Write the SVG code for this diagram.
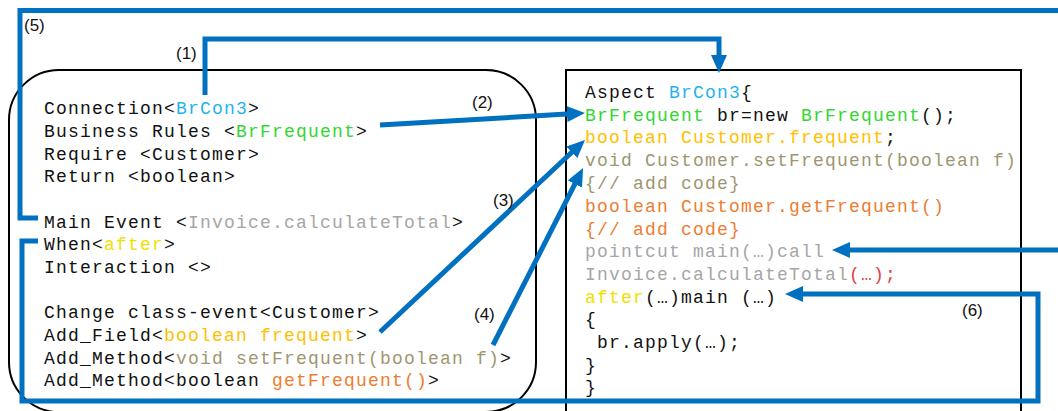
<svg xmlns="http://www.w3.org/2000/svg" width="1058" height="411" viewBox="0 0 1058 411">
  <style>
    .code { font-family: "Liberation Mono", "Courier New", monospace; font-size: 18px; letter-spacing: 1.2px; fill: #111; }
    .box { fill: none; stroke: #000; stroke-width: 2; }
    .wire { fill: none; stroke: #0070C0; stroke-width: 5; }
    .tag { font-family: "Liberation Sans", Arial, sans-serif; font-size: 17px; fill: #111; }
    .cyan { fill: #1FB4EE; }
    .green { fill: #33D633; }
    .gold { fill: #FFC000; }
    .olive { fill: #9E9670; }
    .orange { fill: #ED7D31; }
    .gray { fill: #A6A6A6; }
    .yellow { fill: #F0E000; }
    .red { fill: #E04040; }
  </style>
  <defs>
    <marker id="head" markerUnits="userSpaceOnUse" markerWidth="18" markerHeight="16" refX="8" refY="8" orient="auto">
      <path d="M0,0 L18,8 L0,16 z" fill="#0070C0"/>
    </marker>
  </defs>
  <rect width="1058" height="411" fill="#fff"/>

  <!-- DSL specification -->
  <g id="dsl-box">
    <rect class="box" x="9" y="70" width="527" height="342" rx="50" ry="50"/>
    <text class="code" x="44" y="114">Connection&lt;<tspan class="cyan">BrCon3</tspan>&gt;</text>
    <text class="code" x="44" y="137">Business Rules &lt;<tspan class="green">BrFrequent</tspan>&gt;</text>
    <text class="code" x="44" y="160">Require &lt;Customer&gt;</text>
    <text class="code" x="44" y="182">Return &lt;boolean&gt;</text>
    <text class="code" x="44" y="228">Main Event &lt;<tspan class="gray">Invoice.calculateTotal</tspan>&gt;</text>
    <text class="code" x="44" y="250">When&lt;<tspan class="yellow">after</tspan>&gt;</text>
    <text class="code" x="44" y="273">Interaction &lt;&gt;</text>
    <text class="code" x="44" y="318">Change class-event&lt;Customer&gt;</text>
    <text class="code" x="44" y="341">Add_Field&lt;<tspan class="gold">boolean frequent</tspan>&gt;</text>
    <text class="code" x="44" y="364">Add_Method&lt;<tspan class="olive">void setFrequent(boolean f)</tspan>&gt;</text>
    <text class="code" x="44" y="386">Add_Method&lt;boolean <tspan class="orange">getFrequent()</tspan>&gt;</text>
  </g>

  <!-- Generated aspect -->
  <g id="aspect-box">
    <rect class="box" x="566" y="70" width="455" height="350"/>
    <text class="code" x="585" y="98">Aspect <tspan class="cyan">BrCon3</tspan>{</text>
    <text class="code" x="585" y="121"><tspan class="green">BrFrequent</tspan> br=new <tspan class="green">BrFrequent</tspan>();</text>
    <text class="code" x="585" y="143"><tspan class="gold">boolean Customer.frequent</tspan>;</text>
    <text class="code olive" x="585" y="166">void Customer.setFrequent(boolean f)</text>
    <text class="code olive" x="585" y="189">{// add code}</text>
    <text class="code orange" x="585" y="212">boolean Customer.getFrequent()</text>
    <text class="code orange" x="585" y="235">{// add code}</text>
    <text class="code gray" x="585" y="257">pointcut main(…)call</text>
    <text class="code" x="585" y="280"><tspan class="gray">Invoice.calculateTotal</tspan><tspan class="red">(…);</tspan></text>
    <text class="code" x="585" y="303"><tspan class="yellow">after</tspan>(…)main (…)</text>
    <text class="code" x="585" y="325">{</text>
    <text class="code" x="597" y="348">br.apply(…);</text>
    <text class="code" x="585" y="371">}</text>
    <text class="code" x="585" y="393">}</text>
  </g>

  <!-- Mapping connectors -->
  <g id="connectors">
    <path class="wire" d="M205,95 V39 H719 V63" marker-end="url(#head)"/>
    <path class="wire" d="M380,125 L575,113.6" marker-end="url(#head)"/>
    <path class="wire" d="M380,332 L577.7,146.8" marker-end="url(#head)"/>
    <path class="wire" d="M493,345 L578.5,176.9" marker-end="url(#head)"/>
    <path class="wire" d="M38,218 H20 V10.5 H1058"/>
    <path class="wire" d="M1058,250 H842" marker-end="url(#head)"/>
    <path class="wire" d="M38,241 H22 V401 H1038 V294 H795" marker-end="url(#head)"/>
    <text class="tag" x="176" y="59">(1)</text>
    <text class="tag" x="472" y="108">(2)</text>
    <text class="tag" x="493" y="206">(3)</text>
    <text class="tag" x="474" y="320">(4)</text>
    <text class="tag" x="24" y="31">(5)</text>
    <text class="tag" x="962" y="316">(6)</text>
  </g>
</svg>
